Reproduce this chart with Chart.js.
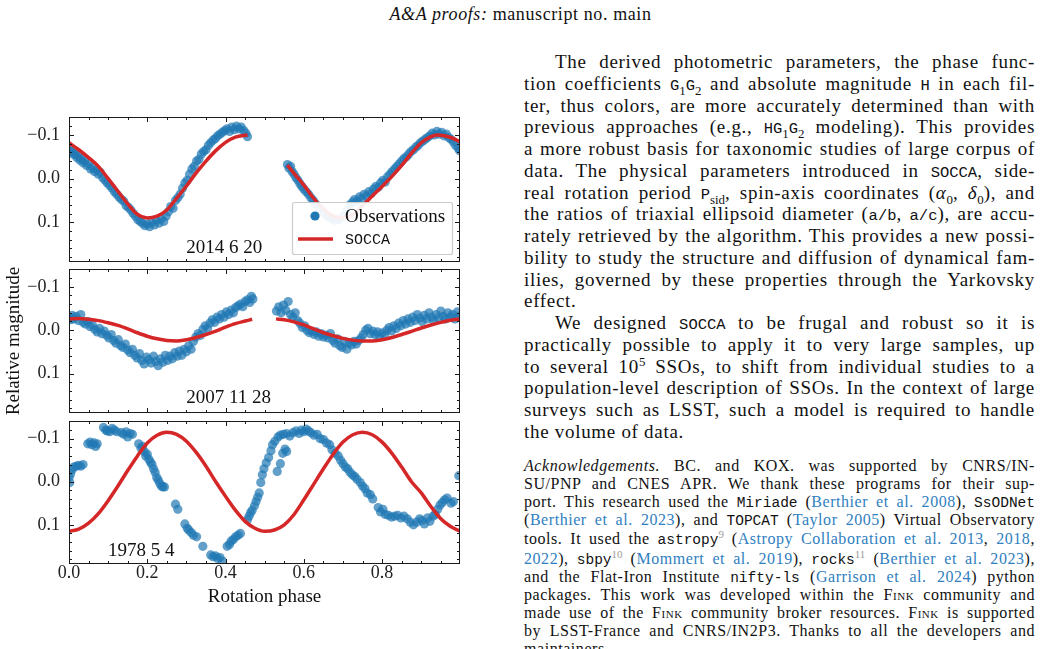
<!DOCTYPE html>
<html>
<head>
<meta charset="utf-8">
<script src="https://cdn.jsdelivr.net/npm/chart.js@4.4.1/dist/chart.umd.min.js"></script>
<style>
html, body { margin: 0; padding: 0; background: #fff; }
body { width: 1041px; height: 649px; overflow: hidden; position: relative; font-family: "Liberation Serif", serif; color: #111; }
canvas { position: absolute; left: 0; }
#header { position: absolute; top: 3px; left: 0; width: 1041px; text-align: center; font-size: 18px; line-height: 22px; letter-spacing: 0.6px; }
.col { position: absolute; left: 524px; width: 511px; }
.main { top: 51px; font-size: 19px; letter-spacing: 0.7px; }
.main div { height: 21.75px; line-height: 21.75px; text-align: justify; text-align-last: justify; }
.ack { top: 457px; font-size: 16px; letter-spacing: 0.55px; }
.ack div { height: 18px; line-height: 18px; text-align: justify; text-align-last: justify; }
.col div.end { text-align-last: left; }
.ind { text-indent: 31px; }
.tt { font-family: "Liberation Mono", monospace; font-size: 15.5px; letter-spacing: 0; }
.ack .tt { font-size: 14.5px; }
sub, sup { font-size: 0.68em; line-height: 0; letter-spacing: 0; }
.cite { color: #3080c0; }
.fn { color: #999; }
.sc { font-variant: small-caps; }
</style>
</head>
<body>
<div id="header"><i>A&amp;A proofs:</i> manuscript no. main</div>

<canvas id="c1" width="470" height="153" style="top:113px"></canvas>
<canvas id="c2" width="470" height="152" style="top:265px"></canvas>
<canvas id="c3" width="470" height="197" style="top:417px"></canvas>

<div class="col main">
<div class="ind">The derived photometric parameters, the phase func-</div>
<div>tion coefficients <span class="tt">G</span><sub>1</sub><span class="tt">G</span><sub>2</sub> and absolute magnitude <span class="tt">H</span> in each fil-</div>
<div>ter, thus colors, are more accurately determined than with</div>
<div>previous approaches (e.g., <span class="tt">HG</span><sub>1</sub><span class="tt">G</span><sub>2</sub> modeling). This provides</div>
<div>a more robust basis for taxonomic studies of large corpus of</div>
<div>data. The physical parameters introduced in <span class="tt">SOCCA</span>, side-</div>
<div>real rotation period <span class="tt">P</span><sub>sid</sub>, spin-axis coordinates (<i>α</i><sub>0</sub>, <i>δ</i><sub>0</sub>), and</div>
<div>the ratios of triaxial ellipsoid diameter (<span class="tt">a/b</span>, <span class="tt">a/c</span>), are accu-</div>
<div>rately retrieved by the algorithm. This provides a new possi-</div>
<div>bility to study the structure and diffusion of dynamical fam-</div>
<div>ilies, governed by these properties through the Yarkovsky</div>
<div class="end">effect.</div>
<div class="ind">We designed <span class="tt">SOCCA</span> to be frugal and robust so it is</div>
<div>practically possible to apply it to very large samples, up</div>
<div>to several 10<sup>5</sup> SSOs, to shift from individual studies to a</div>
<div>population-level description of SSOs. In the context of large</div>
<div>surveys such as LSST, such a model is required to handle</div>
<div class="end">the volume of data.</div>
</div>

<div class="col ack">
<div><i>Acknowledgements.</i> BC. and KOX. was supported by CNRS/IN-</div>
<div>SU/PNP and CNES APR. We thank these programs for their sup-</div>
<div>port. This research used the <span class="tt">Miriade</span> (<span class="cite">Berthier et al. 2008</span>), <span class="tt">SsODNet</span></div>
<div>(<span class="cite">Berthier et al. 2023</span>), and <span class="tt">TOPCAT</span> (<span class="cite">Taylor 2005</span>) Virtual Observatory</div>
<div style="margin-top:1px">tools. It used the <span class="tt">astropy</span><sup class="fn">9</sup> (<span class="cite">Astropy Collaboration et al. 2013</span>, <span class="cite">2018</span>,</div>
<div style="margin-top:2px"><span class="cite">2022</span>), <span class="tt">sbpy</span><sup class="fn">10</sup> (<span class="cite">Mommert et al. 2019</span>), <span class="tt">rocks</span><sup class="fn">11</sup> (<span class="cite">Berthier et al. 2023</span>),</div>
<div>and the Flat-Iron Institute <span class="tt">nifty-ls</span> (<span class="cite">Garrison et al. 2024</span>) python</div>
<div>packages. This work was developed within the <span class="sc">Fink</span> community and</div>
<div>made use of the <span class="sc">Fink</span> community broker resources. <span class="sc">Fink</span> is supported</div>
<div>by LSST-France and CNRS/IN2P3. Thanks to all the developers and</div>
<div class="end">maintainers.</div>
</div>

<script>
// tick labels (shared by all panels)
const xTickValues = [0.0, 0.2, 0.4, 0.6, 0.8];
const yTickValues = [-0.1, 0.0, 0.1];

// panel 1 : 2014 6 20
const p1Phase = [
  0.000, 0.004, 0.008, 0.012, 0.016, 0.020, 0.024, 0.028, 0.032, 0.036,
  0.040, 0.045, 0.050, 0.055, 0.060, 0.065, 0.070, 0.075, 0.080, 0.086,
  0.092, 0.098, 0.104, 0.110, 0.116, 0.122, 0.128, 0.134, 0.140, 0.146,
  0.152, 0.158, 0.164, 0.170, 0.176, 0.182, 0.188, 0.194, 0.200, 0.206,
  0.212, 0.218, 0.224, 0.230, 0.236, 0.242, 0.248, 0.254, 0.260, 0.266,
  0.272, 0.278, 0.284, 0.290, 0.296, 0.302, 0.308, 0.314, 0.320, 0.326,
  0.332, 0.338, 0.344, 0.350, 0.356, 0.362, 0.368, 0.374, 0.380, 0.386,
  0.392, 0.398, 0.404, 0.410, 0.416, 0.422, 0.428, 0.434, 0.440, 0.446,
  0.452, 0.456,
  0.558, 0.562, 0.566, 0.570, 0.575, 0.580, 0.585, 0.590, 0.595, 0.600,
  0.606, 0.612, 0.618, 0.624, 0.630, 0.640, 0.650, 0.660, 0.670, 0.680,
  0.690, 0.700, 0.710, 0.718, 0.724, 0.730, 0.736, 0.742, 0.748, 0.754,
  0.760, 0.766, 0.772, 0.778, 0.784, 0.790, 0.796, 0.802, 0.808, 0.814,
  0.820, 0.826, 0.832, 0.838, 0.844, 0.850, 0.856, 0.862, 0.868, 0.874,
  0.880, 0.886, 0.892, 0.898, 0.904, 0.910, 0.916, 0.922, 0.928, 0.934,
  0.940, 0.946, 0.952, 0.958, 0.964, 0.970, 0.976, 0.982, 0.988, 0.994,
  0.998
];
const p1Mag = [
  -0.068, -0.060, -0.064, -0.055, -0.058, -0.048, -0.052, -0.042, -0.046, -0.036,
  -0.040, -0.030, -0.034, -0.022, -0.026, -0.016, -0.020, -0.010, -0.014, -0.002,
  0.004, 0.010, 0.016, 0.022, 0.030, 0.036, 0.042, 0.048, 0.052, 0.062,
  0.066, 0.072, 0.080, 0.086, 0.094, 0.098, 0.102, 0.108, 0.104, 0.110,
  0.100, 0.106, 0.096, 0.102, 0.092, 0.098, 0.086, 0.076, 0.064, 0.068,
  0.050, 0.044, 0.036, 0.022, 0.010, 0.004, -0.010, -0.022, -0.028, -0.040,
  -0.044, -0.056, -0.062, -0.066, -0.076, -0.082, -0.088, -0.092, -0.098, -0.102,
  -0.106, -0.110, -0.114, -0.108, -0.118, -0.112, -0.120, -0.114, -0.118, -0.110,
  -0.104, -0.096,
  -0.032, -0.024, -0.028, -0.016, -0.010, -0.002, 0.004, 0.012, 0.018, 0.024,
  0.030, 0.036, 0.044, 0.050, 0.058, 0.068, 0.078, 0.086, 0.092, 0.096,
  0.094, 0.086, 0.074, 0.060, 0.054, 0.048, 0.052, 0.042, 0.046, 0.036,
  0.040, 0.030, 0.034, 0.024, 0.018, 0.020, 0.010, 0.004, 0.008, -0.004,
  -0.010, -0.016, -0.022, -0.028, -0.034, -0.040, -0.046, -0.050, -0.056, -0.062,
  -0.066, -0.072, -0.076, -0.082, -0.086, -0.090, -0.094, -0.098, -0.104, -0.100,
  -0.108, -0.102, -0.106, -0.098, -0.102, -0.094, -0.090, -0.084, -0.076, -0.070,
  -0.064
];
const p1ModelPhase = [0, 0.025, 0.05, 0.075, 0.10, 0.125, 0.15, 0.175, 0.20, 0.225, 0.25, 0.275, 0.30, 0.325, 0.35, 0.375, 0.40, 0.425, 0.456,
  0.50,
  0.558, 0.575, 0.60, 0.625, 0.65, 0.675, 0.70, 0.725, 0.75, 0.775, 0.80, 0.825, 0.85, 0.875, 0.90, 0.925, 0.94, 0.95, 0.975, 1.0];
const p1ModelMag = [-0.082, -0.066, -0.048, -0.028, 0.000, 0.029, 0.058, 0.082, 0.090, 0.086, 0.072, 0.045, 0.017, -0.013, -0.040, -0.064, -0.083, -0.095, -0.100,
  null,
  -0.031, -0.012, 0.015, 0.045, 0.070, 0.086, 0.090, 0.082, 0.062, 0.040, 0.018, -0.005, -0.030, -0.058, -0.082, -0.096, -0.100, -0.099, -0.094, -0.084];

// panel 2 : 2007 11 28
const p2Phase = [
  0.000, 0.004, 0.008, 0.012, 0.018, 0.024, 0.030, 0.036, 0.042, 0.048,
  0.054, 0.060, 0.066, 0.072, 0.078, 0.084, 0.090, 0.096, 0.102, 0.108,
  0.114, 0.120, 0.126, 0.132, 0.138, 0.144, 0.150, 0.156, 0.162, 0.168,
  0.174, 0.180, 0.186, 0.192, 0.198, 0.204, 0.210, 0.216, 0.222, 0.228,
  0.234, 0.240, 0.246, 0.252, 0.258, 0.264, 0.270, 0.276, 0.282, 0.288,
  0.294, 0.300, 0.306, 0.312, 0.318, 0.324, 0.330, 0.336, 0.342, 0.348,
  0.354, 0.360, 0.366, 0.372, 0.378, 0.384, 0.390, 0.396, 0.402, 0.408,
  0.414, 0.420, 0.426, 0.432, 0.438, 0.444, 0.450, 0.456, 0.462, 0.466,
  0.470,
  0.530, 0.536, 0.542, 0.548, 0.554, 0.560, 0.566, 0.572, 0.578, 0.584,
  0.590, 0.596, 0.602, 0.608, 0.614, 0.620, 0.626, 0.632, 0.638, 0.644,
  0.650, 0.656, 0.662, 0.668, 0.674, 0.680, 0.686, 0.692, 0.698, 0.704,
  0.710, 0.716, 0.722, 0.728, 0.734, 0.740, 0.746, 0.752, 0.758, 0.764,
  0.770, 0.776, 0.782, 0.788, 0.794, 0.800, 0.806, 0.812, 0.818, 0.824,
  0.830, 0.836, 0.842, 0.848, 0.854, 0.860, 0.866, 0.872, 0.878, 0.884,
  0.890, 0.896, 0.902, 0.908, 0.914, 0.920, 0.926, 0.932, 0.938, 0.944,
  0.950, 0.956, 0.962, 0.968, 0.974, 0.980, 0.986, 0.992, 0.998
];
const p2Mag = [
  -0.030, -0.024, -0.034, -0.026, -0.032, -0.022, -0.036, -0.018, -0.014, -0.020,
  -0.008, -0.012, -0.002, 0.004, -0.004, 0.008, 0.002, 0.012, 0.018, 0.010,
  0.024, 0.030, 0.022, 0.036, 0.040, 0.032, 0.046, 0.052, 0.044, 0.058,
  0.064, 0.054, 0.070, 0.078, 0.062, 0.068, 0.076, 0.060, 0.072, 0.082,
  0.066, 0.074, 0.058, 0.070, 0.060, 0.066, 0.052, 0.060, 0.048, 0.058,
  0.044, 0.050, 0.036, 0.044, 0.026, 0.016, 0.008, 0.012, -0.002, -0.010,
  -0.004, -0.016, -0.024, -0.018, -0.030, -0.026, -0.036, -0.030, -0.042, -0.036,
  -0.046, -0.040, -0.052, -0.056, -0.060, -0.054, -0.066, -0.070, -0.064, -0.078,
  -0.072,
  -0.044, -0.054, -0.040, -0.058, -0.046, -0.066, -0.036, -0.030, -0.040, -0.022,
  -0.016, -0.006, -0.010, 0.000, 0.006, 0.002, 0.010, 0.004, 0.014, 0.008,
  0.016, 0.012, 0.018, 0.008, 0.024, 0.030, 0.020, 0.036, 0.040, 0.026,
  0.044, 0.030, 0.034, 0.026, 0.032, 0.024, 0.018, 0.010, 0.000, -0.004,
  0.008, 0.002, 0.010, 0.004, 0.016, 0.006, 0.012, 0.000, -0.006, 0.002,
  -0.010, -0.004, -0.016, -0.010, -0.022, -0.014, -0.026, -0.018, -0.030, -0.022,
  -0.036, -0.028, -0.020, -0.034, -0.026, -0.040, -0.030, -0.022, -0.036, -0.028,
  -0.044, -0.032, -0.026, -0.040, -0.030, -0.036, -0.026, -0.042, -0.032
];
const p2ModelPhase = [0, 0.025, 0.05, 0.075, 0.10, 0.125, 0.15, 0.175, 0.20, 0.225, 0.25, 0.275, 0.30, 0.325, 0.35, 0.375, 0.40, 0.425, 0.45, 0.468,
  0.50,
  0.529, 0.55, 0.575, 0.60, 0.625, 0.65, 0.675, 0.70, 0.725, 0.75, 0.775, 0.80, 0.825, 0.85, 0.875, 0.90, 0.925, 0.95, 0.975, 1.0];
const p2ModelMag = [-0.026, -0.027, -0.025, -0.022, -0.017, -0.011, -0.003, 0.006, 0.014, 0.020, 0.024, 0.025, 0.022, 0.017, 0.010, 0.002, -0.007, -0.015, -0.021, -0.025,
  null,
  -0.026, -0.024, -0.019, -0.012, -0.003, 0.006, 0.013, 0.019, 0.023, 0.025, 0.025, 0.022, 0.017, 0.010, 0.003, -0.005, -0.012, -0.018, -0.023, -0.026];

// panel 3 : 1978 5 4
const p3Phase = [
  0.000, 0.002, 0.004, 0.008, 0.012, 0.018, 0.024, 0.030, 0.036, 0.048,
  0.054, 0.058, 0.064, 0.068, 0.072, 0.088, 0.094, 0.098, 0.104, 0.110,
  0.116, 0.122, 0.134, 0.140, 0.146, 0.150, 0.156, 0.162, 0.178, 0.184,
  0.188, 0.192, 0.196, 0.200, 0.204, 0.208, 0.212, 0.216, 0.220, 0.224,
  0.228, 0.232, 0.236, 0.240, 0.244, 0.272, 0.278, 0.296, 0.302, 0.306,
  0.312, 0.318, 0.326, 0.342, 0.362, 0.368, 0.374, 0.380, 0.386, 0.392,
  0.404, 0.410, 0.414, 0.420, 0.426, 0.432, 0.438, 0.456, 0.460, 0.464,
  0.468, 0.474, 0.478, 0.482, 0.486, 0.490, 0.494, 0.498, 0.504, 0.510,
  0.516, 0.520, 0.526, 0.532, 0.534, 0.540, 0.540, 0.546, 0.548, 0.552,
  0.556, 0.556, 0.564, 0.572, 0.580, 0.588, 0.594, 0.600, 0.606, 0.612,
  0.618, 0.626, 0.634, 0.642, 0.650, 0.658, 0.666, 0.672, 0.680, 0.688,
  0.694, 0.700, 0.706, 0.712, 0.718, 0.724, 0.730, 0.736, 0.744, 0.750,
  0.756, 0.762, 0.770, 0.776, 0.790, 0.796, 0.802, 0.808, 0.816, 0.824,
  0.832, 0.840, 0.848, 0.856, 0.864, 0.872, 0.880, 0.888, 0.896, 0.902,
  0.908, 0.916, 0.922, 0.930, 0.936, 0.942, 0.948, 0.954, 0.960, 0.966,
  0.976, 0.982, 0.996
];
const p3Mag = [
  -0.010, 0.002, -0.018, -0.028, -0.034, -0.036, -0.038, -0.036, -0.040, -0.088,
  -0.092, -0.086, -0.090, -0.082, -0.088, -0.126, -0.120, -0.118, -0.116, -0.124,
  -0.120, -0.116, -0.114, -0.110, -0.116, -0.104, -0.112, -0.110, -0.088, -0.078,
  -0.082, -0.070, -0.060, -0.064, -0.052, -0.046, -0.040, -0.030, -0.022, -0.010,
  -0.004, 0.004, 0.010, 0.012, 0.012, 0.052, 0.064, 0.098, 0.108, 0.112,
  0.118, 0.124, 0.128, 0.150, 0.170, 0.174, 0.172, 0.178, 0.176, 0.184,
  0.150, 0.146, 0.138, 0.134, 0.128, 0.124, 0.120, 0.088, 0.080, 0.072,
  0.066, 0.056, 0.046, 0.036, 0.026, 0.002, -0.016, -0.030, -0.044, -0.056,
  -0.072, -0.086, -0.094, -0.024, -0.104, -0.042, -0.108, -0.066, -0.110, -0.076,
  -0.070, -0.112, -0.106, -0.114, -0.118, -0.112, -0.120, -0.116, -0.122, -0.118,
  -0.114, -0.108, -0.110, -0.100, -0.098, -0.090, -0.086, -0.074, -0.066, -0.060,
  -0.050, -0.042, -0.034, -0.030, -0.022, -0.016, -0.012, -0.006, 0.002, 0.010,
  0.016, 0.026, 0.030, 0.040, 0.060, 0.070, 0.064, 0.076, 0.078, 0.082,
  0.080, 0.078, 0.084, 0.080, 0.086, 0.094, 0.100, 0.094, 0.086, 0.090,
  0.098, 0.084, 0.092, 0.080, 0.076, 0.064, 0.054, 0.048, 0.042, 0.038,
  0.050, 0.046, -0.014
];
const p3ModelPhase = [0, 0.025, 0.05, 0.075, 0.10, 0.125, 0.15, 0.175, 0.20, 0.225, 0.25, 0.275, 0.30, 0.325, 0.35, 0.375, 0.40, 0.425, 0.45, 0.475,
  0.50, 0.525, 0.55, 0.575, 0.60, 0.625, 0.65, 0.675, 0.70, 0.725, 0.75, 0.775, 0.80, 0.825, 0.85, 0.875, 0.90, 0.925, 0.95, 0.975, 1.0];
const p3ModelMag = [0.115, 0.110, 0.096, 0.074, 0.044, 0.010, -0.026, -0.060, -0.090, -0.108, -0.115, -0.110, -0.094, -0.068, -0.036, 0.000, 0.034, 0.066, 0.092, 0.108,
  0.115, 0.112, 0.100, 0.076, 0.042, 0.006, -0.030, -0.064, -0.092, -0.109, -0.115, -0.109, -0.092, -0.066, -0.034, 0.000, 0.026, 0.058, 0.086, 0.104, 0.115];

const obsColor = 'rgba(31, 119, 180, 0.7)';
const modelColor = '#d62728';
const serif = '"Liberation Serif", serif';

function toXY(xs, ys) {
  return xs.map((x, i) => ({ x: x, y: ys[i] }));
}

function fmtTick(v) {
  if (Math.abs(v) < 1e-9) return '0.0';
  return (v < 0 ? '\u2212' : '') + Math.abs(v).toFixed(1);
}

// inward ticks on all four sides, frame, date label and (optionally) legend
const framePlugin = {
  id: 'frame',
  afterDraw(chart, args, opts) {
    const { ctx, chartArea: a, scales: { x, y } } = chart;
    ctx.save();
    ctx.strokeStyle = '#1a1a1a';
    ctx.lineWidth = 1;
    ctx.beginPath();
    for (let i = 0; i <= 19; i++) {
      const px = Math.round(x.getPixelForValue(i * 0.05)) + 0.5;
      const len = i % 4 === 0 ? 5 : 3;
      ctx.moveTo(px, a.bottom); ctx.lineTo(px, a.bottom - len);
      ctx.moveTo(px, a.top); ctx.lineTo(px, a.top + len);
    }
    for (let i = -7; i <= 9; i++) {
      const py = Math.round(y.getPixelForValue(i * 0.02)) + 0.5;
      const len = i % 5 === 0 ? 5 : 3;
      ctx.moveTo(a.left, py); ctx.lineTo(a.left + len, py);
      ctx.moveTo(a.right, py); ctx.lineTo(a.right - len, py);
    }
    ctx.stroke();
    ctx.strokeRect(a.left + 0.5, a.top + 0.5, a.right - a.left - 1, a.bottom - a.top - 1);

    ctx.fillStyle = '#111';
    ctx.font = '19px ' + serif;
    ctx.textBaseline = 'alphabetic';
    ctx.textAlign = 'left';
    ctx.fillText(opts.label, a.left + opts.labelX * (a.right - a.left), a.bottom - opts.labelDy);

    if (opts.legend) {
      const w = 160, h = 52;
      const bx = a.right - 8 - w, by = a.bottom - 8 - h;
      ctx.fillStyle = 'rgba(255,255,255,0.92)';
      ctx.strokeStyle = '#cccccc';
      ctx.lineWidth = 1.2;
      ctx.beginPath();
      ctx.roundRect(bx + 0.5, by + 0.5, w, h, 2);
      ctx.fill();
      ctx.stroke();
      ctx.fillStyle = '#1f77b4';
      ctx.beginPath();
      ctx.arc(bx + 23, by + 14, 4.6, 0, Math.PI * 2);
      ctx.fill();
      ctx.strokeStyle = modelColor;
      ctx.lineWidth = 3.5;
      ctx.beginPath();
      ctx.moveTo(bx + 6, by + 37); ctx.lineTo(bx + 41, by + 37);
      ctx.stroke();
      ctx.fillStyle = '#111';
      ctx.textBaseline = 'middle';
      ctx.font = '19px ' + serif;
      ctx.fillText('Observations', bx + 53, by + 15);
      ctx.font = '15px "Liberation Mono", monospace';
      ctx.fillText('SOCCA', bx + 53, by + 38);
    }
    ctx.restore();
  }
};

function makePanel(id, phase, mag, modelPhase, modelMag, cfg) {
  return new Chart(document.getElementById(id), {
    type: 'scatter',
    data: {
      datasets: [
        {
          label: 'SOCCA',
          type: 'line',
          data: toXY(modelPhase, modelMag),
          borderColor: modelColor,
          borderWidth: 3.5,
          pointRadius: 0,
          cubicInterpolationMode: 'monotone',
          spanGaps: false,
          fill: false
        },
        {
          label: 'Observations',
          data: toXY(phase, mag),
          backgroundColor: obsColor,
          borderWidth: 0,
          pointRadius: 4.6
        }
      ]
    },
    options: {
      responsive: false,
      animation: false,
      events: [],
      layout: { autoPadding: false, padding: { top: 4, right: 10, bottom: cfg.showX ? 0 : 4, left: 0 } },
      plugins: {
        legend: { display: false },
        tooltip: { enabled: false },
        frame: { label: cfg.label, labelX: cfg.labelX, labelDy: cfg.labelDy, legend: cfg.legend }
      },
      scales: {
        x: {
          type: 'linear',
          min: 0,
          max: 0.999,
          display: cfg.showX,
          grid: { display: false, drawTicks: false },
          border: { display: false },
          afterBuildTicks: s => { s.ticks = xTickValues.map(v => ({ value: v })); },
          afterFit: s => {
            if (cfg.showX) s.height = 50;
            s.paddingLeft = 0; s.paddingRight = 0;
          },
          ticks: { padding: -2, color: '#222', font: { family: serif, size: 18 }, callback: v => v.toFixed(1), maxRotation: 0 },
          title: { display: cfg.showX, text: 'Rotation phase', color: '#111', font: { family: serif, size: 19 }, padding: { top: 0, bottom: 6 } }
        },
        y: {
          type: 'linear',
          reverse: true,
          min: -0.141,
          max: 0.191,
          grid: { display: false, drawTicks: false },
          border: { display: false },
          afterBuildTicks: s => { s.ticks = yTickValues.map(v => ({ value: v })); },
          afterFit: s => {
            s.width = 69;
            s.paddingTop = 0; s.paddingBottom = 0;
          },
          ticks: { padding: 9, color: '#222', font: { family: serif, size: 18 }, callback: fmtTick },
          title: { display: cfg.showYTitle, text: 'Relative magnitude', color: '#111', font: { family: serif, size: 19 }, padding: { top: 3, bottom: 0 } }
        }
      }
    },
    plugins: [framePlugin]
  });
}

makePanel('c1', p1Phase, p1Mag, p1ModelPhase, p1ModelMag,
  { label: '2014 6 20', labelX: 0.30, labelDy: 9, legend: true, showX: false, showYTitle: false });
makePanel('c2', p2Phase, p2Mag, p2ModelPhase, p2ModelMag,
  { label: '2007 11 28', labelX: 0.30, labelDy: 10, legend: false, showX: false, showYTitle: true });
makePanel('c3', p3Phase, p3Mag, p3ModelPhase, p3ModelMag,
  { label: '1978 5 4', labelX: 0.10, labelDy: 8, legend: false, showX: true, showYTitle: false });
</script>
</body>
</html>
